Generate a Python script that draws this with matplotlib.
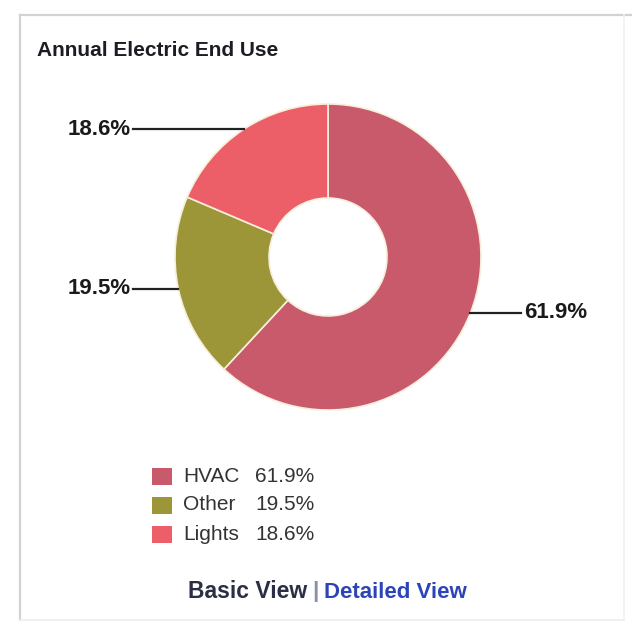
import matplotlib
matplotlib.use('Agg')
import matplotlib.pyplot as plt
from matplotlib.patches import Rectangle
import numpy as np

categories = ['HVAC', 'Other', 'Lights']
shares = [61.9, 19.5, 18.6]
colors = ['#c85a6c', '#9c9638', '#ec5f68']

W, H = 632, 622
bold_font = ['Liberation Sans', 'DejaVu Sans']
regular = ['Liberation Sans', 'DejaVu Sans']


def Y(y):
    # pixel rows are counted from the top
    return H - y


fig = plt.figure(figsize=(W / 100, H / 100), dpi=100)
ax = fig.add_axes([0, 0, 1, 1])

# panel frame
ax.plot([20, 20], [Y(620), Y(15)], color='#d2d2d2', lw=1.6)
ax.plot([20, 632], [Y(15), Y(15)], color='#d2d2d2', lw=1.6)
ax.plot([624, 624], [Y(620), Y(15)], color='#f0f0f0', lw=1.2)
ax.plot([20, 624], [Y(620), Y(620)], color='#eeeeee', lw=1.2)

ax.text(37, Y(50), 'Annual Electric End Use', family=bold_font, weight='bold',
        fontsize=15, color='#1c1c24', va='center', ha='left')

cx, cy, r = 328, Y(257), 153
wedges, _ = ax.pie(shares, colors=colors, startangle=90, counterclock=False,
                   radius=r, center=(cx, cy), frame=True,
                   wedgeprops=dict(width=94, edgecolor='#f7efdc', linewidth=1.2))

# value labels with horizontal leader lines
for w, v in zip(wedges, shares):
    mid = np.deg2rad((w.theta1 + w.theta2) / 2)
    ex, ey = cx + r * np.cos(mid), cy + r * np.sin(mid)
    if np.cos(mid) < 0:
        ax.plot([133, ex], [ey, ey], color='#222222', lw=1.6)
        ax.text(131, ey, f'{v:.1f}%', family=bold_font, weight='bold', fontsize=16,
                color='#1a1a1a', ha='right', va='center')
    else:
        ax.plot([ex, 521], [ey, ey], color='#222222', lw=1.6)
        ax.text(524, ey, f'{v:.1f}%', family=bold_font, weight='bold', fontsize=16,
                color='#1a1a1a', ha='left', va='center')

# legend
for i, (name, v, c) in enumerate(zip(categories, shares, colors)):
    yc = Y(476 + 29 * i)
    ax.add_patch(Rectangle((152, yc - 8.5), 20, 17, color=c, lw=0))
    ax.text(183, yc, name, family=regular, fontsize=15, color='#333333',
            va='center', ha='left')
    ax.text(255, yc, f'{v:.1f}%', family=regular, fontsize=15, color='#333333',
            va='center', ha='left')

# view switch links
ax.text(307, Y(592), 'Basic View', family=bold_font, weight='bold', fontsize=16.5,
        color='#2b2f45', ha='right', va='center')
ax.text(315, Y(592), '|', family=bold_font, weight='bold', fontsize=16,
        color='#8a90a8', ha='center', va='center')
ax.text(324, Y(592), 'Detailed View', family=bold_font, weight='bold', fontsize=16,
        color='#2c44b8', ha='left', va='center')

ax.set_xlim(0, W)
ax.set_ylim(0, H)
ax.set_aspect('auto')
ax.axis('off')

plt.savefig('out.png', dpi=100, facecolor='white')
